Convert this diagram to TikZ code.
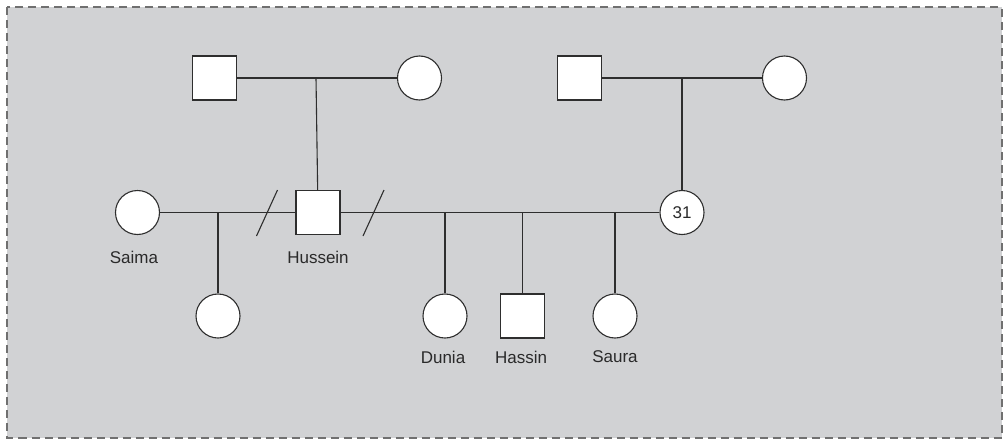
\documentclass[tikz,border=0pt]{standalone}
\usepackage{fontspec}
\setmainfont{Liberation Sans}
\definecolor{bg}{HTML}{D1D2D4}
\definecolor{ln}{HTML}{2E2E2E}
\definecolor{bd}{HTML}{707070}
\definecolor{tx}{HTML}{2A2A2A}
\begin{document}
\begin{tikzpicture}[x=1pt,y=-1pt,
  male/.style={draw=ln,fill=white,line width=1.1pt,minimum size=44pt,inner sep=0pt,rectangle},
  female/.style={draw=ln,fill=white,line width=1.1pt,minimum size=44pt,inner sep=0pt,circle},
  rel/.style={draw=ln,line width=1.1pt},
  lab/.style={text=tx,font=\fontsize{17}{20}\selectfont,inner sep=0pt},
  every node/.style={font=\fontsize{17}{20}\selectfont,text=tx}]
\useasboundingbox (0,0) rectangle (1003,439);
\fill[bg] (7,7) rectangle (1001.5,437.5);
\draw[bd,line width=2pt,dash pattern=on 8pt off 5pt] (7,7) rectangle (1001.5,437.5);
% generation I
\node[male] (gf1) at (214.5,78) {};
\node[female] (gm1) at (419.5,78) {};
\node[male] (gf2) at (579.5,78) {};
\node[female] (gm2) at (784.5,78) {};
\coordinate (m1) at (316,78);
\coordinate (m2) at (682,78);
% generation II
\node[female] (saima) at (137.5,212.5) {};
\node[male] (hussein) at (318,212.5) {};
\node[female] (w31) at (682,212.5) {31};
% generation III
\node[female] (c0) at (218,316) {};
\node[female] (dunia) at (445,316) {};
\node[male] (hassin) at (522.5,316) {};
\node[female] (saura) at (615,316) {};
% labels
\node[lab] (lsaima) at (134,257) {Saima};
\node[lab] (lhussein) at (318,257) {Hussein};
\node[lab] (ldunia) at (443,357) {Dunia};
\node[lab] (lhassin) at (521,357) {Hassin};
\node[lab] (lsaura) at (615,357) {Saura};
% connectors
\draw[rel] (gf1) -- (gm1);
\draw[rel] (gf2) -- (gm2);
\draw[rel] (m1) -- (hussein);
\draw[rel] (m2) -- (w31);
\draw[rel] (saima) -- (hussein);
\draw[rel] (hussein) -- (w31);
\coordinate (j0) at (218,212.5);
\coordinate (j1) at (445,212.5);
\coordinate (j2) at (522.5,212.5);
\coordinate (j3) at (615,212.5);
\draw[rel] (j0) -- (c0);
\draw[rel] (j1) -- (dunia);
\draw[rel] (j2) -- (hassin);
\draw[rel] (j3) -- (saura);
% divorce slashes
\coordinate (s1a) at (256.5,236);
\coordinate (s1b) at (277.5,190);
\coordinate (s2a) at (363,236);
\coordinate (s2b) at (384,190);
\draw[rel] (s1a) -- (s1b);
\draw[rel] (s2a) -- (s2b);
\end{tikzpicture}
\end{document}
